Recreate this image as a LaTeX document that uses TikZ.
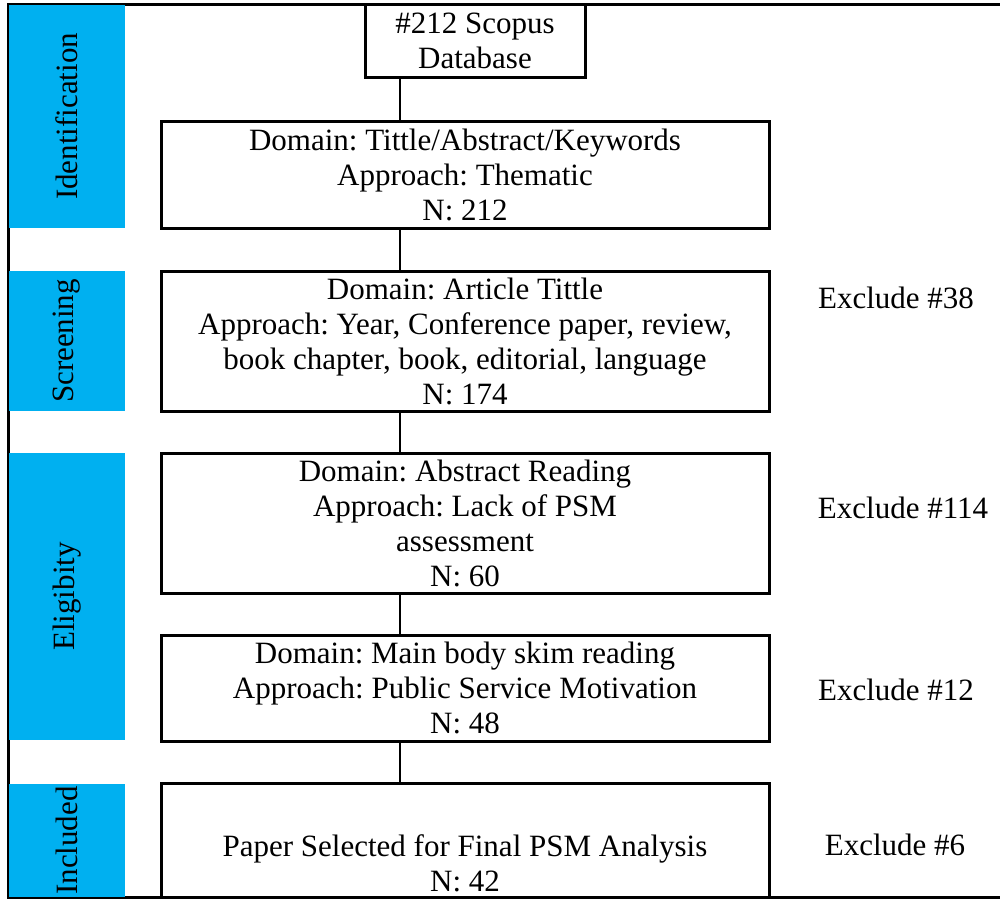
\documentclass[tikz,border=0pt]{standalone}
\usepackage{fontspec}
\setmainfont{Liberation Serif}
\frenchspacing
\definecolor{barblue}{HTML}{00B0F0}
\begin{document}
\begin{tikzpicture}[x=1pt,y=-1pt,
  box/.style={draw=black,line width=3pt,inner sep=0pt,align=center,font=\fontsize{31}{35}\selectfont},
  txt/.style={inner sep=0pt,align=center,font=\fontsize{31}{35}\selectfont},
  bar/.style={fill=barblue,draw=none,inner sep=0pt,minimum width=116pt},
  barlabel/.style={rotate=90,inner sep=0pt,font=\fontsize{31}{35}\selectfont},
  conn/.style={draw=black,line width=2pt}]
\useasboundingbox (0,0) rectangle (1000,899);
% outer frame
\draw[line width=3pt] (1000,5) -- (8,5) -- (8,897) -- (1000,897);
% stage bars
\node[bar,minimum height=223pt] (bid) at (67,116.5) {};
\node[barlabel] at (bid.center) {Identification};
\node[bar,minimum height=140pt] (bsc) at (67,341) {};
\node[barlabel] at (bsc.center) {Screening};
\node[bar,minimum height=287pt] (bel) at (67,596.5) {};
\node[barlabel] at (bel.center) {Eligibity};
\node[bar,minimum height=113pt] (bin) at (67,840.5) {};
\node[barlabel] at (bin.center) {Included};
% boxes
\node[box,minimum width=220pt,minimum height=72pt] (b1) at (475,41) {\#212 Scopus\\Database};
\node[box,minimum width=608pt,minimum height=107pt] (b2) at (465,174.5) {Domain: Tittle/Abstract/Keywords\\Approach: Thematic\\N: 212};
\node[box,minimum width=608pt,minimum height=140pt] (b3) at (465,341) {Domain: Article Tittle\\Approach: Year, Conference paper, review,\\book chapter, book, editorial, language\\N: 174};
\node[box,minimum width=608pt,minimum height=140pt] (b4) at (465,523) {Domain: Abstract Reading\\Approach: Lack of PSM\\assessment\\N: 60};
\node[box,minimum width=608pt,minimum height=106pt] (b5) at (465,688) {Domain: Main body skim reading\\Approach: Public Service Motivation\\N: 48};
\node[box,minimum width=608pt,minimum height=114pt] (b6) at (465,840) {};
\node[txt] (t6) at (465,863) {Paper Selected for Final PSM Analysis\\N: 42};
% connectors
\coordinate (cx) at (400,0);
\draw[conn] (b1.south -| cx) -- (b2.north -| cx);
\draw[conn] (b2.south -| cx) -- (b3.north -| cx);
\draw[conn] (b3.south -| cx) -- (b4.north -| cx);
\draw[conn] (b4.south -| cx) -- (b5.north -| cx);
\draw[conn] (b5.south -| cx) -- (b6.north -| cx);
% exclusions
\node[txt] (e1) at (896,298) {Exclude \#38};
\node[txt] (e2) at (903,508) {Exclude \#114};
\node[txt] (e3) at (896,690) {Exclude \#12};
\node[txt] (e4) at (895,845) {Exclude \#6};
\end{tikzpicture}
\end{document}
